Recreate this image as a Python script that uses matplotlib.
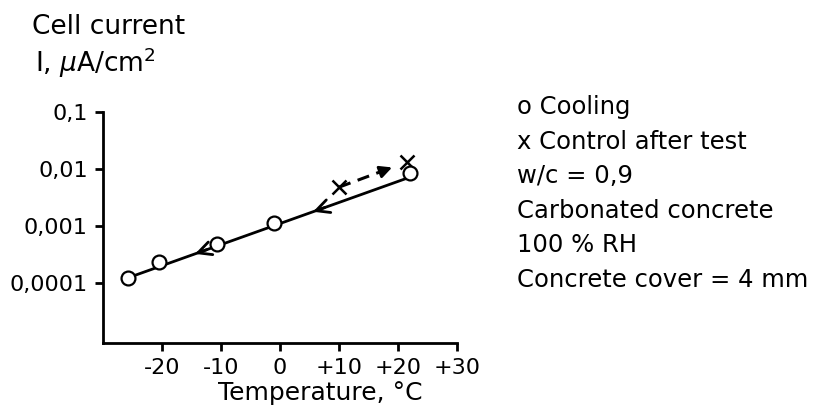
import matplotlib
matplotlib.use("Agg")
import matplotlib.pyplot as plt

# data
cooling_T = [-25.7, -20.5, -10.6, -1.0, 22.0]
cooling_I = [1.24e-4, 2.3e-4, 4.8e-4, 1.11e-3, 8.6e-3]
control_T = [10.0, 21.5]
control_I = [4.8e-3, 1.33e-2]
fit_T = [-25.7, 21.7]
fit_I = [1.24e-4, 7.0e-3]
arrow_T = [5.6, -14.4]
x_ticks = [-20, -10, 0, 10, 20, 30]
x_ticklabels = ["-20", "-10", "0", "+10", "+20", "+30"]
y_ticks = [1e-4, 1e-3, 1e-2, 1e-1]
y_ticklabels = ["0,0001", "0,001", "0,01", "0,1"]
notes = ["o Cooling", "x Control after test", "w/c = 0,9",
         "Carbonated concrete", "100 % RH", "Concrete cover = 4 mm"]

fig = plt.figure(figsize=(8.19, 4.13), dpi=100)
ax = fig.add_axes([103 / 819, 1 - 343 / 413, 354 / 819, 231 / 413])

ax.set_yscale("log")
ax.set_xlim(-30, 30)
ax.set_ylim(1e-4 / 10 ** (60 / 57), 0.1)

# fitted line with direction arrows
ax.plot(fit_T, fit_I, color="black", lw=2, zorder=2)
slope = (fit_I[1] / fit_I[0]) ** (1 / (fit_T[1] - fit_T[0]))
for t in arrow_T:
    i = fit_I[0] * slope ** (t - fit_T[0])
    ax.annotate("", xy=(t, i), xytext=(t + 2, i * slope ** 2),
                arrowprops=dict(arrowstyle="->", color="black", lw=2,
                                mutation_scale=24, shrinkA=0, shrinkB=0))

# control after test: dashed line with filled arrowhead
ctrl_slope = (control_I[1] / control_I[0]) ** (1 / (control_T[1] - control_T[0]))
tip_T = 19.0
tip_I = control_I[0] * ctrl_slope ** (tip_T - control_T[0])
end_T = tip_T - 1.5
ax.plot([control_T[0], end_T], [control_I[0], control_I[0] * ctrl_slope ** (end_T - control_T[0])],
        color="black", lw=2.2, ls=(0, (4, 2.5)), zorder=2)
ax.annotate("", xy=(tip_T, tip_I), xytext=(tip_T - 2, tip_I / ctrl_slope ** 2),
            arrowprops=dict(arrowstyle="-|>", color="black", lw=2,
                            mutation_scale=18, shrinkA=0, shrinkB=0))

ax.plot(control_T, control_I, ls="none", marker="x", ms=10, mew=1.8,
        color="black", zorder=3)
ax.plot(cooling_T, cooling_I, ls="none", marker="o", ms=10, mew=1.6,
        mfc="white", mec="black", zorder=4)

for s in ["top", "right"]:
    ax.spines[s].set_visible(False)
for s in ["left", "bottom"]:
    ax.spines[s].set_linewidth(2)

ax.set_xticks(x_ticks)
ax.set_xticklabels(x_ticklabels)
ax.set_yticks(y_ticks)
ax.set_yticklabels(y_ticklabels)
ax.minorticks_off()
ax.tick_params(axis="both", direction="out", length=6, width=2, pad=5)
ax.tick_params(axis="x", labelsize=16)
ax.tick_params(axis="y", labelsize=16)

ax.set_xlabel("Temperature, °C", fontsize=18, va="baseline")
ax.xaxis.set_label_coords((320 - 103) / 354, -(400 - 343) / 231)

fig.text(32 / 819, 1 - 14 / 413, "Cell current", fontsize=19, va="top")
fig.text(35 / 819, 1 - 72 / 413, "I, $\\mu$A/cm$^2$", fontsize=19, va="baseline")

for k, line in enumerate(notes):
    fig.text(517 / 819, 1 - (114 + 34.6 * k) / 413, line, fontsize=17.5,
             va="baseline")

fig.savefig("out.png", dpi=100)
